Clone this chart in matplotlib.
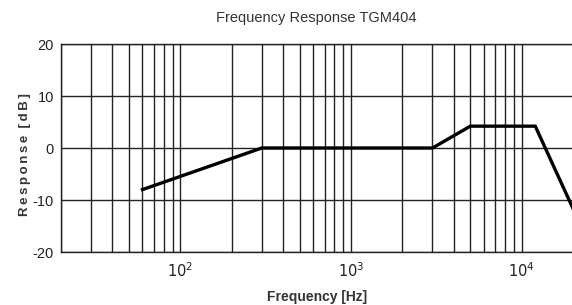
import matplotlib
matplotlib.use("Agg")
import matplotlib.pyplot as plt
from matplotlib.ticker import FixedLocator, NullFormatter

freq_hz = [60, 300, 3000, 5000, 12000, 20000]
response_db = [-8, 0, 0, 4.2, 4.2, -11.7]
y_ticks = [-20, -10, 0, 10, 20]
x_major = [100, 1000, 10000]
x_major_labels = [r"$10^2$", r"$10^3$", r"$10^4$"]

plt.rcParams['font.family'] = ['Liberation Sans', 'DejaVu Sans']

fig = plt.figure(figsize=(5.72, 3.05), dpi=100)
ax = fig.add_axes([61/572, 1-252/305, 1-61/572 + 0.002, (252-44)/305])

ax.set_xscale('log')
ax.set_xlim(20, 20000)
ax.set_ylim(-20, 20)

minor = [m * d for d in (10, 100, 1000, 10000) for m in range(2, 10) if 20 <= m * d <= 20000]
for f in sorted(set(minor + x_major)):
    ax.axvline(f, color='#222222', lw=1.0, zorder=1)
for y in y_ticks:
    ax.axhline(y, color='#222222', lw=1.0, zorder=1)

ax.plot(freq_hz, response_db, color='black', lw=2.4, zorder=3, solid_joinstyle='miter')

ax.xaxis.set_major_locator(FixedLocator(x_major))
ax.set_xticklabels(x_major_labels, fontsize=10.5, color='#222222')
ax.xaxis.set_minor_locator(FixedLocator([]))
ax.xaxis.set_minor_formatter(NullFormatter())
ax.set_yticks(y_ticks)
ax.set_yticklabels([str(v) for v in y_ticks], fontsize=10.5, color='#222222')
ax.tick_params(axis='y', length=0, pad=5)
ax.tick_params(axis='x', length=0, pad=7)

for s in ax.spines.values():
    s.set_color('#222222')
    s.set_linewidth(1.0)

ts = "\u2009"
ax.set_xlabel("Frequency [Hz]", fontsize=10, fontweight='bold',
              color='#333333', labelpad=7)
ax.set_ylabel(ts.join("Response") + "  " + ts.join("[dB]"), fontsize=9.5, fontweight='bold',
              color='#333333')
ax.yaxis.set_label_coords(-0.058, 0.47)
fig.text(316/572, 1-18/305, "Frequency Response TGM404", fontsize=10.5, color='#333333',
         ha='center', va='center')

fig.savefig("out.png", dpi=100)
